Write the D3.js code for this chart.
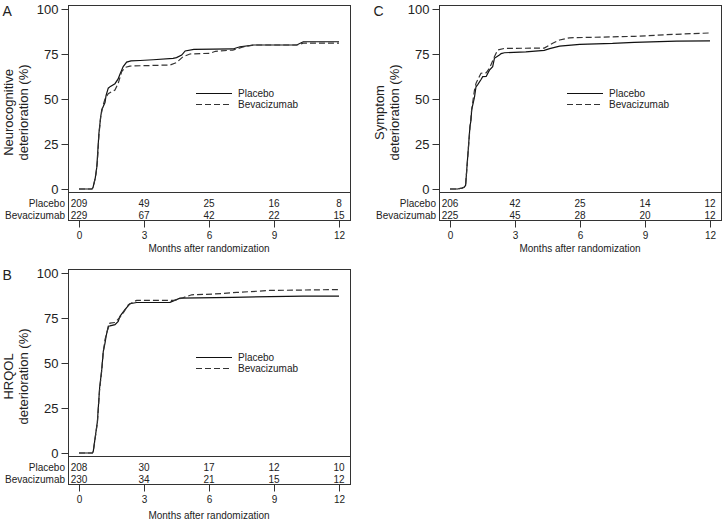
<!DOCTYPE html>
<html>
<head>
<meta charset="utf-8">
<script src="https://cdn.jsdelivr.net/npm/d3@7"></script>
<style>
  body { margin: 0; background: #fff; }
  svg { display: block; font-family: "Liberation Sans", Arial, sans-serif; }
</style>
</head>
<body>
<svg id="chart" width="723" height="522"></svg>
<script>
const width = 723, height = 522

// time axis and risk-table columns (months)
const months = [0, 3, 6, 9, 12]
const yTicks = [0, 25, 50, 75, 100]
const groups = ['Placebo', 'Bevacizumab']

// A: neurocognitive deterioration, [month, %]
const neuroPlacebo = [[0,0],[0.6,0],[0.65,1],[0.75,6],[0.82,12],[0.92,31],[1.0,40],[1.05,44],[1.2,48],[1.25,52],[1.35,56],[1.45,57],[1.66,58.5],[1.8,61],[1.9,64],[2.04,68],[2.2,70.5],[2.4,71.2],[2.82,71.4],[3.42,71.8],[4.34,72.6],[4.5,73],[4.74,74.4],[4.9,76.7],[5.3,77.6],[7.1,77.8],[7.43,79],[8.05,80],[10.05,80],[10.35,81.8],[12,81.8]]
const neuroBev = [[0,0],[0.6,0],[0.66,1],[0.78,8],[0.85,15],[0.92,30],[1.0,40],[1.1,46],[1.2,50],[1.35,53],[1.66,55],[1.81,58.7],[1.97,65.2],[2.12,67.5],[2.35,68.3],[4.2,68.9],[4.5,70.2],[4.8,73.5],[5.12,75],[6.05,75.4],[6.3,76.5],[7.1,77.2],[7.6,79],[8.05,80],[10.05,80],[10.35,81],[12,81]]
const neuroRiskPlacebo = [209, 49, 25, 16, 8]
const neuroRiskBev = [229, 67, 42, 22, 15]

// B: HRQOL deterioration
const hrqolPlacebo = [[0,0],[0.62,0],[0.66,1],[0.85,17.6],[0.95,36],[1.05,46.3],[1.12,56.4],[1.2,61.1],[1.25,64.8],[1.35,70.4],[1.43,70.6],[1.66,71.3],[1.81,73.1],[1.89,75.9],[2.12,79.6],[2.35,82.9],[2.66,83.6],[4.2,83.7],[4.66,86],[7.1,86.5],[10.35,87.2],[12,87.2]]
const hrqolBev = [[0,0],[0.62,0],[0.66,1],[0.85,17],[0.95,35],[1.05,46],[1.12,56],[1.2,63],[1.3,67.6],[1.43,72.2],[1.66,72.5],[1.86,75],[2.05,78],[2.28,82.4],[2.66,84.8],[4.4,84.8],[4.74,86],[5.2,87.9],[6.2,88.3],[7.28,89.2],[8.8,90.3],[12,90.8]]
const hrqolRiskPlacebo = [208, 30, 17, 12, 10]
const hrqolRiskBev = [230, 34, 21, 15, 12]

// C: symptom deterioration
const symptomPlacebo = [[0,0],[0.35,0],[0.55,0.5],[0.65,1],[0.72,2],[0.84,21.7],[0.92,34.6],[0.97,38.3],[1.0,44],[1.13,51],[1.2,56.8],[1.28,58],[1.44,61],[1.51,62.4],[1.67,62.5],[1.82,66],[1.97,68],[2.05,72.6],[2.28,74.4],[2.36,75.2],[2.51,75.7],[3.5,76.2],[4.35,77],[4.6,78],[5.06,79.4],[5.99,80.4],[7.5,80.9],[8.5,81.5],[10.45,82.2],[12,82.3]]
const symptomBev = [[0,0],[0.35,0],[0.55,0.5],[0.65,1],[0.72,2],[0.84,21],[0.92,34],[1.0,44],[1.13,55],[1.2,58.7],[1.35,62.4],[1.43,64.3],[1.67,64.5],[1.82,67],[2.05,73.5],[2.2,77.2],[2.51,78.1],[4.35,78.3],[4.74,81],[5.06,82.8],[5.52,84],[8.5,84.8],[10.3,85.9],[12,86.7]]
const symptomRiskPlacebo = [206, 42, 25, 14, 12]
const symptomRiskBev = [225, 45, 28, 20, 12]

const panels = [
  {letter: 'A', title: ['Neurocognitive', 'deterioration (%)'], series: [neuroPlacebo, neuroBev], risk: [neuroRiskPlacebo, neuroRiskBev], ox: 0, oy: 0, xTitleDy: 0},
  {letter: 'C', title: ['Symptom', 'deterioration (%)'], series: [symptomPlacebo, symptomBev], risk: [symptomRiskPlacebo, symptomRiskBev], ox: 371, oy: 0, xTitleDy: 0},
  {letter: 'B', title: ['HRQOL', 'deterioration (%)'], series: [hrqolPlacebo, hrqolBev], risk: [hrqolRiskPlacebo, hrqolRiskBev], ox: 0, oy: 264, xTitleDy: 3}
]

const ink = '#222'
const dashes = [null, '6,3']

const svg = d3.select('#chart')
svg.append('rect').attr('width', width).attr('height', height).attr('fill', '#fff')

function drawPanel(p) {
  const g = svg.append('g').attr('transform', `translate(${p.ox},${p.oy})`)
  const x = d3.scaleLinear([0, 12], [79, 339])
  const y = d3.scaleLinear([0, 100], [189, 9])

  // frame around plot and risk table
  g.append('rect')
    .attr('x', 68.5).attr('y', 5.5)
    .attr('width', 282).attr('height', 215)
    .attr('fill', 'none').attr('stroke', '#333')
  g.append('line')
    .attr('x1', 68.5).attr('x2', 350.5)
    .attr('y1', 192.5).attr('y2', 192.5)
    .attr('stroke', '#333')

  // y axis
  g.append('g')
    .attr('transform', 'translate(68.5,0)')
    .call(d3.axisLeft(y).tickValues(yTicks).tickSize(7).tickPadding(3))
    .call(a => a.select('.domain').remove())
    .call(a => a.selectAll('line').attr('stroke', '#333'))
    .call(a => a.selectAll('text').attr('font-size', '13px').attr('fill', ink).attr('font-family', null))

  // x axis under the risk table
  g.append('g')
    .attr('transform', 'translate(0,220.5)')
    .call(d3.axisBottom(x).tickValues(months).tickSize(7).tickPadding(4))
    .call(a => a.select('.domain').remove())
    .call(a => a.selectAll('line').attr('stroke', '#333'))
    .call(a => a.selectAll('text').attr('font-size', '10px').attr('fill', ink).attr('font-family', null))

  g.append('text')
    .text('Months after randomization')
    .attr('x', (x(0) + x(12)) / 2)
    .attr('y', 251.6 + p.xTitleDy)
    .attr('text-anchor', 'middle')
    .attr('font-size', '10px')
    .attr('fill', ink)

  // y title, two lines
  g.selectAll('.ytitle')
    .data(p.title)
    .join('text')
    .attr('class', 'ytitle')
    .text(d => d)
    .attr('transform', (d, i) => `translate(${13 + 15 * i},112.5) rotate(-90)`)
    .attr('text-anchor', 'middle')
    .attr('font-size', '13px')
    .attr('fill', ink)

  // panel letter
  g.append('text')
    .text(p.letter)
    .attr('x', 2.5).attr('y', 15.5)
    .attr('font-size', '14px')
    .attr('fill', ink)

  // curves
  const line = d3.line().x(d => x(d[0])).y(d => y(d[1]))
  g.selectAll('.curve')
    .data(p.series)
    .join('path')
    .attr('class', 'curve')
    .attr('d', line)
    .attr('fill', 'none')
    .attr('stroke', (d, i) => i ? '#333' : '#111')
    .attr('stroke-width', 1.2)
    .attr('stroke-dasharray', (d, i) => dashes[i])

  // legend
  groups.forEach((name, i) => {
    const ly = 93.5 + 11 * i
    g.append('line')
      .attr('x1', 196).attr('x2', 232)
      .attr('y1', ly).attr('y2', ly)
      .attr('stroke', i ? '#333' : '#111')
      .attr('stroke-width', 1.1)
      .attr('stroke-dasharray', dashes[i])
    g.append('text')
      .text(name)
      .attr('x', 238).attr('y', ly + 3.6)
      .attr('font-size', '10px')
      .attr('fill', ink)
  })

  // numbers at risk
  groups.forEach((name, i) => {
    const ry = 206.5 + 12 * i
    g.append('text')
      .text(name)
      .attr('x', 65).attr('y', ry)
      .attr('text-anchor', 'end')
      .attr('font-size', '10px')
      .attr('fill', ink)
    g.selectAll('.risk' + i)
      .data(p.risk[i])
      .join('text')
      .attr('class', 'risk' + i)
      .text(d => d)
      .attr('x', (d, j) => x(months[j]))
      .attr('y', ry)
      .attr('text-anchor', 'middle')
      .attr('font-size', '10px')
      .attr('fill', ink)
  })
}

panels.forEach(drawPanel)
</script>
</body>
</html>
